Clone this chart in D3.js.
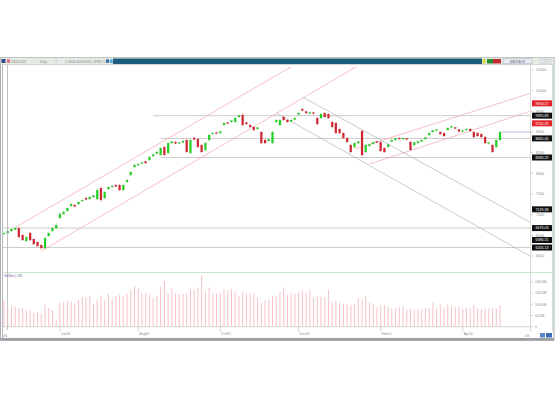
<!DOCTYPE html>
<html>
<head>
<meta charset="utf-8">
<script src="https://cdn.jsdelivr.net/npm/d3@7"></script>
<style>
  body { margin: 0; background: #fff; }
  svg { display: block; }
  text { font-family: "Liberation Sans", Arial, sans-serif; }
</style>
</head>
<body>
<div id="chart"></div>
<script>
// daily candles
const opens = [
  6531, 6555, 6604, 6640, 6676, 6507, 6362, 6555, 6410, 6338,
  6265, 6192, 6483, 6604, 6676, 6918, 7015, 7088, 7209, 7233,
  7257, 7330, 7402, 7378, 7427, 7378, 7644, 7402, 7620, 7669,
  7717, 7717, 7596, 7790, 7959, 8153, 8201, 8237, 8286, 8322,
  8419, 8479, 8443, 8637, 8491, 8733, 8758, 8721, 8745, 8806,
  8491, 8854, 8830, 8685, 8564, 8806, 8951, 8987, 8975, 9169,
  9229, 9242, 9242, 9363, 9411, 9229, 9169, 9121, 9072, 9000,
  8806, 8782, 8733, 9242, 9169, 9363, 9290, 9254, 9302, 9423,
  9556, 9496, 9447, 9471, 9338, 9338, 9459, 9435, 9242, 9217,
  9072, 8975, 8854, 8685, 8637, 8733, 9024, 8516, 8661, 8709,
  8770, 8758, 8612, 8637, 8770, 8806, 8854, 8830, 8842, 8758,
  8685, 8733, 8770, 8830, 8927, 9000, 9036, 9000, 8975, 9048,
  9108, 9108, 9060, 9012, 9048, 9072, 9000, 8975, 8951, 8879,
  8721, 8685, 8637, 8806
];
const highs = [
  6604, 6628, 6676, 6713, 6701, 6531, 6483, 6580, 6434, 6362,
  6289, 6459, 6580, 6701, 6797, 7064, 7112, 7185, 7281, 7257,
  7330, 7378, 7427, 7451, 7487, 7644, 7693, 7572, 7693, 7717,
  7741, 7741, 7741, 7862, 8056, 8225, 8249, 8286, 8310, 8419,
  8479, 8540, 8637, 8685, 8782, 8794, 8782, 8758, 8806, 8854,
  8830, 8903, 8854, 8709, 8758, 8951, 9000, 9012, 9036, 9242,
  9254, 9302, 9363, 9423, 9459, 9254, 9193, 9145, 9133, 9024,
  8830, 8842, 9024, 9314, 9314, 9387, 9314, 9314, 9363, 9484,
  9592, 9520, 9496, 9496, 9363, 9459, 9484, 9459, 9266, 9242,
  9096, 9000, 8879, 8709, 8758, 8794, 9072, 8709, 8721, 8770,
  8794, 8782, 8637, 8721, 8830, 8866, 8879, 8879, 8866, 8782,
  8770, 8794, 8830, 8891, 9000, 9060, 9084, 9024, 9000, 9121,
  9157, 9133, 9084, 9060, 9096, 9096, 9024, 9000, 8975, 8903,
  8770, 8709, 8830, 9024
];
const lows = [
  6507, 6531, 6580, 6616, 6434, 6362, 6338, 6338, 6265, 6217,
  6156, 6168, 6459, 6580, 6652, 6894, 6991, 7064, 7185, 7173,
  7233, 7306, 7342, 7354, 7402, 7354, 7306, 7378, 7596, 7644,
  7657, 7572, 7572, 7765, 7935, 8128, 8177, 8213, 8225, 8298,
  8395, 8455, 8419, 8419, 8467, 8709, 8697, 8709, 8721, 8491,
  8467, 8794, 8612, 8491, 8540, 8782, 8927, 8939, 8951, 9145,
  9181, 9217, 9217, 9338, 9145, 9169, 9096, 9024, 9048, 8709,
  8709, 8758, 8709, 9217, 9145, 9266, 9217, 9229, 9278, 9399,
  9496, 9435, 9423, 9387, 9169, 9314, 9338, 9314, 9096, 8951,
  8951, 8830, 8733, 8467, 8612, 8709, 8419, 8491, 8637, 8685,
  8721, 8516, 8491, 8612, 8745, 8782, 8806, 8806, 8794, 8540,
  8661, 8709, 8745, 8806, 8903, 8975, 9012, 8927, 8879, 9024,
  9084, 9060, 8987, 8987, 9024, 9000, 8854, 8879, 8854, 8709,
  8697, 8491, 8612, 8782
];
const closes = [
  6555, 6604, 6652, 6676, 6459, 6386, 6459, 6386, 6289, 6241,
  6192, 6434, 6555, 6676, 6749, 7015, 7064, 7160, 7257, 7197,
  7306, 7354, 7366, 7427, 7463, 7596, 7354, 7548, 7669, 7693,
  7681, 7596, 7717, 7838, 8032, 8201, 8225, 8261, 8249, 8395,
  8455, 8516, 8612, 8443, 8733, 8770, 8721, 8745, 8782, 8516,
  8806, 8818, 8637, 8516, 8733, 8927, 8975, 8963, 9012, 9217,
  9205, 9278, 9338, 9399, 9169, 9193, 9121, 9048, 9108, 8733,
  8733, 8818, 9000, 9290, 9290, 9290, 9242, 9290, 9338, 9459,
  9520, 9459, 9471, 9447, 9193, 9435, 9363, 9338, 9121, 8975,
  8975, 8854, 8758, 8516, 8733, 8770, 8443, 8685, 8697, 8745,
  8745, 8540, 8516, 8697, 8806, 8842, 8830, 8854, 8818, 8564,
  8745, 8770, 8806, 8866, 8975, 9036, 9060, 8951, 8903, 9096,
  9133, 9084, 9012, 9036, 9072, 9024, 8879, 8903, 8879, 8733,
  8745, 8516, 8806, 9000
];
// volume in millions
const volumes = [
  119, 84, 89, 92, 84, 84, 72, 75, 63, 63,
  57, 97, 84, 75, 30, 107, 109, 116, 112, 105,
  119, 134, 131, 137, 105, 122, 139, 119, 149, 124,
  137, 142, 134, 149, 167, 182, 172, 149, 149, 142,
  127, 139, 179, 206, 149, 172, 149, 146, 146, 149,
  167, 164, 176, 227, 156, 176, 149, 149, 152, 167,
  161, 167, 156, 137, 156, 149, 149, 146, 131, 107,
  119, 122, 137, 134, 156, 176, 142, 149, 146, 154,
  161, 152, 167, 127, 137, 134, 131, 167, 107, 116,
  107, 101, 101, 97, 101, 127, 122, 137, 107, 101,
  89, 97, 97, 89, 82, 82, 87, 89, 75, 82,
  78, 78, 78, 82, 82, 107, 82, 101, 82, 100,
  89, 89, 92, 82, 87, 82, 97, 82, 78, 82,
  82, 82, 82, 97
];

const monthIdx = [15, 36, 58, 79, 101, 123];
const monthLabels = ["Jun09", "Aug09", "Oct09", "Dec09", "Feb10", "Apr10"];
const priceTicks = [6000, 6500, 7000, 7500, 8000, 8500, 9000, 9500, 10000, 10500];
const volTicks = [0, 50, 100, 150, 200];
const volTickLabels = ["0", "50.0M", "100.0M", "150.0M", "200.0M"];

// horizontal support / resistance lines: level, first bar
const hLevels = [9395, 8845, 8383, 6676, 6205];
const hStart = [40, 42, 42, 0, 0];

// drawn trend lines [bar0, price0, bar1, price1]
const pinkLines = [
  [3, 6690, 77, 10580],
  [10, 6120, 94.5, 10580],
  [94, 8590, 141, 9930],
  [98, 8225, 141, 9500]
];
const grayLines = [
  [80, 9850, 141, 6820],
  [73, 9460, 141, 6000]
];

// price flags on the right axis
const flagValues = [9694.17, 9395.83, 9210.29, 8845.45, 8383.29, 7129.38, 6676.03, 6386.51, 6205.13];
const flagColors = ["#e3242b", "#111", "#e3242b", "#111", "#111", "#111", "#111", "#111", "#111"];

const W = 555, H = 400;
const axisX = 530.5, rightEdge = 552;
const priceTop = 65, priceBottom = 272;
const volTop = 273, volBottom = 326.7;

const svg = d3.select("#chart").append("svg")
  .attr("width", W).attr("height", H);

const x = d3.scaleLinear().domain([0, opens.length - 1]).range([4, 500]);
const y = d3.scaleLinear().domain([6000, 10500]).range([256, 70]);
const yv = d3.scaleLinear().domain([0, 200]).range([volBottom, 282]);

// window frame
svg.append("rect").attr("x", 0.5).attr("y", 57.5).attr("width", W - 1.5).attr("height", 283)
  .attr("fill", "#fff").attr("stroke", "#a9aeb3");

// title bar
svg.append("rect").attr("x", 0.5).attr("y", 57.5).attr("width", W - 1.5).attr("height", 7)
  .attr("fill", "#e6ebe6").attr("stroke", "#b9c2b9").attr("stroke-width", 0.6);
svg.append("rect").attr("x", 113).attr("y", 58.5).attr("width", 369).attr("height", 5.5)
  .attr("fill", "#1e5d7b");
svg.append("rect").attr("x", 1.5).attr("y", 59).attr("width", 4).attr("height", 4)
  .attr("fill", "#2c4f8a");
svg.append("rect").attr("x", 7).attr("y", 59.3).attr("width", 3).attr("height", 3.5)
  .attr("fill", "#e06a7a");
const titleBits = [["USDX.IDX", 11], ["Daily", 40], ["T", 55], ["C:9000.45 H:9024 L:8782 O:8806", 65]];
svg.selectAll("text.title").data(titleBits).enter().append("text")
  .attr("class", "title")
  .attr("x", d => d[1]).attr("y", 62.8)
  .attr("font-size", 3.2).attr("fill", "#7d867d")
  .text(d => d[0]);
svg.append("rect").attr("x", 106).attr("y", 59.3).attr("width", 3).attr("height", 3.5).attr("fill", "#3a6fb0");
svg.append("rect").attr("x", 110).attr("y", 59.3).attr("width", 2.5).attr("height", 3.5).attr("fill", "#3cb0d8");
// right side of title bar
svg.append("rect").attr("x", 482.5).attr("y", 59).attr("width", 3).attr("height", 4.5).attr("fill", "#d7d83a");
svg.append("rect").attr("x", 487).attr("y", 59).attr("width", 6).attr("height", 4.5).attr("fill", "#2d8f33");
svg.append("rect").attr("x", 493).attr("y", 59).attr("width", 8).attr("height", 4.5).attr("fill", "#c42a34");
svg.append("rect").attr("x", 503).attr("y", 58.8).attr("width", 29).attr("height", 5).attr("fill", "#e8ecf2")
  .attr("stroke", "#a7b0bd").attr("stroke-width", 0.5);
svg.append("text").attr("x", 517.5).attr("y", 62.6).attr("text-anchor", "middle")
  .attr("font-size", 3.2).attr("fill", "#6a7180").text("MATRACE");
svg.append("rect").attr("x", 540).attr("y", 59).attr("width", 5).attr("height", 4.5).attr("fill", "#e1e4e8").attr("stroke", "#b9bec6").attr("stroke-width", 0.4);
svg.append("rect").attr("x", 546).attr("y", 59).attr("width", 5).attr("height", 4.5).attr("fill", "#e1e4e8").attr("stroke", "#b9bec6").attr("stroke-width", 0.4);

// pane borders
svg.append("line").attr("x1", 2.5).attr("x2", 2.5).attr("y1", 65).attr("y2", 340).attr("stroke", "#b4b8bc");
svg.append("line").attr("x1", rightEdge + 0.5).attr("x2", rightEdge + 0.5).attr("y1", 65).attr("y2", 332)
  .attr("stroke", "#cfe5cf");
svg.append("line").attr("x1", 3).attr("x2", rightEdge).attr("y1", volTop - 0.5).attr("y2", volTop - 0.5)
  .attr("stroke", "#bfe0bf").attr("stroke-width", 0.8);
svg.append("line").attr("x1", 3).attr("x2", axisX).attr("y1", volBottom).attr("y2", volBottom)
  .attr("stroke", "#b9b9b9").attr("stroke-width", 0.6);
svg.append("line").attr("x1", axisX).attr("x2", axisX).attr("y1", 65).attr("y2", 332)
  .attr("stroke", "#c4c4c4").attr("stroke-width", 0.6);

// clip for price pane
svg.append("clipPath").attr("id", "pclip").append("rect")
  .attr("x", 3).attr("y", priceTop).attr("width", axisX - 3).attr("height", priceBottom - priceTop);
const pg = svg.append("g").attr("clip-path", "url(#pclip)");

// horizontal levels
pg.selectAll("line.lvl").data(hLevels).enter().append("line")
  .attr("class", "lvl")
  .attr("x1", (d, i) => hStart[i] === 0 ? 3 : x(hStart[i]))
  .attr("x2", axisX)
  .attr("y1", d => y(d)).attr("y2", d => y(d))
  .attr("stroke", "#c6c6c6").attr("stroke-width", 0.9);

// trend lines
pg.selectAll("line.pink").data(pinkLines).enter().append("line")
  .attr("class", "pink")
  .attr("x1", d => x(d[0])).attr("y1", d => y(d[1]))
  .attr("x2", d => x(d[2])).attr("y2", d => y(d[3]))
  .attr("stroke", "#f2a4ae").attr("stroke-width", 0.7);
pg.selectAll("line.gray").data(grayLines).enter().append("line")
  .attr("class", "gray")
  .attr("x1", d => x(d[0])).attr("y1", d => y(d[1]))
  .attr("x2", d => x(d[2])).attr("y2", d => y(d[3]))
  .attr("stroke", "#b3b3b3").attr("stroke-width", 0.7);

// cursor line
svg.append("line").attr("x1", 7.5).attr("x2", 7.5).attr("y1", 65).attr("y2", volBottom + 3)
  .attr("stroke", "#a5a5a5").attr("stroke-width", 0.7);

// current price line
const last = closes.length - 1;
svg.append("line").attr("x1", x(last) + 2).attr("x2", axisX)
  .attr("y1", y(closes[last])).attr("y2", y(closes[last]))
  .attr("stroke", "#a6a6d8").attr("stroke-width", 0.8);

// candles
const idx = d3.range(opens.length);
const up = i => closes[i] >= opens[i];
const cg = pg.selectAll("g.c").data(idx).enter().append("g").attr("class", "c");
cg.append("line")
  .attr("x1", i => x(i)).attr("x2", i => x(i))
  .attr("y1", i => y(highs[i])).attr("y2", i => y(lows[i]))
  .attr("stroke", i => up(i) ? "#8ad88a" : "#e58a8f").attr("stroke-width", 0.5);
cg.append("rect")
  .attr("x", i => x(i) - 1).attr("width", 2)
  .attr("y", i => y(Math.max(opens[i], closes[i])))
  .attr("height", i => Math.max(0.8, Math.abs(y(opens[i]) - y(closes[i]))))
  .attr("fill", i => up(i) ? "#22d422" : "#d42430")
  .attr("stroke", i => up(i) ? "#2aa82a" : "#a8222a").attr("stroke-width", 0.2);

// price axis
svg.selectAll("line.pt").data(priceTicks).enter().append("line")
  .attr("class", "pt")
  .attr("x1", axisX).attr("x2", axisX + 2.5)
  .attr("y1", d => y(d)).attr("y2", d => y(d))
  .attr("stroke", "#aaa").attr("stroke-width", 0.5);
svg.selectAll("text.pt").data(priceTicks).enter().append("text")
  .attr("class", "pt")
  .attr("x", 536).attr("y", d => y(d) + 1.3)
  .attr("font-size", 3.6).attr("fill", "#8a8a8a")
  .text(d => d + ".");

// flags
const fg = svg.selectAll("g.flag").data(flagValues).enter().append("g").attr("class", "flag");
fg.append("rect")
  .attr("x", 532).attr("width", 20)
  .attr("y", d => y(d) - 3).attr("height", 6)
  .attr("fill", (d, i) => flagColors[i]);
fg.append("text")
  .attr("x", 542).attr("y", d => y(d) + 1.3).attr("text-anchor", "middle")
  .attr("font-size", 3.6).attr("fill", "#fff")
  .text(d => d.toFixed(2));

// volume pane
svg.append("text").attr("x", 4).attr("y", 276.5)
  .attr("font-size", 3.4).attr("fill", "#6a5f9a").text("Vol(No.) 5/8");
svg.selectAll("line.vol").data(idx).enter().append("line")
  .attr("class", "vol")
  .attr("x1", i => x(i)).attr("x2", i => x(i))
  .attr("y1", yv(0)).attr("y2", i => yv(volumes[i]))
  .attr("stroke", "#f6b0b8").attr("stroke-width", 0.8);
svg.selectAll("line.vt").data(volTicks).enter().append("line")
  .attr("class", "vt")
  .attr("x1", axisX).attr("x2", axisX + 2.5)
  .attr("y1", d => yv(d)).attr("y2", d => yv(d))
  .attr("stroke", "#aaa").attr("stroke-width", 0.5);
svg.selectAll("text.vt").data(volTicks).enter().append("text")
  .attr("class", "vt")
  .attr("x", 535).attr("y", d => yv(d) + 1.3)
  .attr("font-size", 3.4).attr("fill", "#8a8a8a")
  .text((d, i) => volTickLabels[i]);

// time axis
svg.selectAll("line.mt").data(monthIdx).enter().append("line")
  .attr("class", "mt")
  .attr("x1", d => x(d)).attr("x2", d => x(d))
  .attr("y1", volBottom).attr("y2", volBottom + 5)
  .attr("stroke", "#aaa").attr("stroke-width", 0.5);
svg.selectAll("text.mt").data(monthIdx).enter().append("text")
  .attr("class", "mt")
  .attr("x", d => x(d) + 1).attr("y", 335)
  .attr("font-size", 3.4).attr("fill", "#8a8a8a")
  .text((d, i) => monthLabels[i]);

// bottom bar
svg.append("rect").attr("x", 1).attr("y", 338).attr("width", W - 2).attr("height", 2.2).attr("fill", "#9da1a5");
svg.append("text").attr("x", 3).attr("y", 337.3).attr("font-size", 3).attr("fill", "#888").text("4/4");
svg.append("text").attr("x", 525).attr("y", 337.3).attr("font-size", 3).attr("fill", "#888").text("4/4");
svg.append("rect").attr("x", 540).attr("y", 333).attr("width", 5).attr("height", 4.5).attr("fill", "#5a86c8");
svg.append("rect").attr("x", 546).attr("y", 333).attr("width", 6).attr("height", 4.5).attr("fill", "#3e6db8");
</script>
</body>
</html>
